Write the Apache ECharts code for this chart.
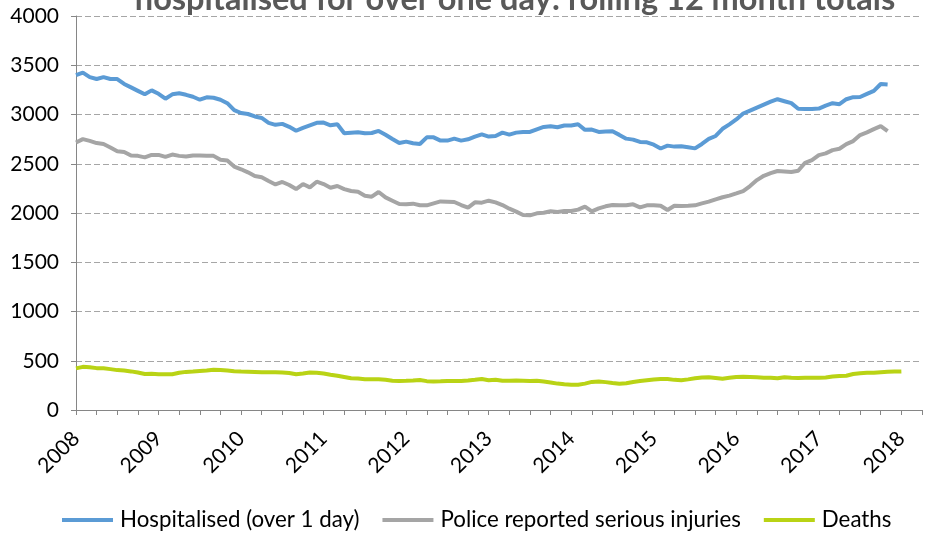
<!DOCTYPE html>
<html>
<head>
<meta charset="utf-8">
<title>Rolling 12 month totals</title>
<script src="https://cdn.jsdelivr.net/npm/echarts@6/dist/echarts.min.js"></script>
<style>
  html, body { margin: 0; padding: 0; background: #fff; }
  #chart { width: 925px; height: 533px; }
</style>
</head>
<body>
<div id="chart"></div>
<script>
// x axis: monthly positions from Jan 2008, year labels every 12 months
const years = ["2008", "2009", "2010", "2011", "2012", "2013", "2014", "2015", "2016", "2017", "2018"];
const monthCount = 124;

// rolling 12 month totals, monthly
const hospitalised = [
  3400, 3425, 3380, 3360, 3380, 3360, 3360, 3310, 3275, 3240, 3205, 3245,
  3210, 3160, 3205, 3215, 3200, 3180, 3150, 3175, 3170, 3150, 3115, 3045,
  3015, 3005, 2980, 2965, 2915, 2895, 2905, 2875, 2835, 2865, 2890, 2915,
  2918, 2890, 2900, 2810, 2815, 2820, 2810, 2812, 2833, 2795, 2752, 2710,
  2725, 2708, 2700, 2768, 2768, 2735, 2735, 2755, 2735, 2748, 2776, 2799,
  2776, 2782, 2816, 2796, 2816, 2823, 2823, 2850, 2874, 2881, 2871, 2888,
  2888, 2901, 2844, 2847, 2823, 2827, 2830, 2793, 2755, 2745, 2721, 2718,
  2694, 2655, 2684, 2674, 2677, 2667, 2656, 2701, 2752, 2782, 2855, 2900,
  2950, 3010, 3040, 3070, 3100, 3130, 3155, 3135, 3115, 3058, 3057, 3057,
  3060, 3090, 3115, 3105, 3155, 3176, 3178, 3209, 3240, 3310, 3305
];
const policeSerious = [
  2715, 2750, 2732, 2710, 2700, 2665, 2627, 2620, 2583, 2580, 2565, 2590,
  2590, 2570, 2593, 2580, 2573, 2583, 2583, 2580, 2580, 2540, 2532, 2471,
  2444, 2413, 2376, 2363, 2325, 2290, 2315, 2284, 2243, 2294, 2260, 2318,
  2294, 2257, 2274, 2243, 2223, 2216, 2176, 2166, 2213, 2159, 2125, 2091,
  2088, 2095, 2078, 2078, 2098, 2118, 2115, 2112, 2081, 2054, 2108, 2105,
  2125, 2108, 2081, 2044, 2014, 1980, 1976, 1997, 2003, 2017, 2010, 2020,
  2020, 2034, 2064, 2017, 2047, 2068, 2081, 2078, 2078, 2088, 2057, 2078,
  2078, 2074, 2030, 2074, 2071, 2074, 2078, 2098, 2115, 2139, 2160, 2176,
  2199, 2223, 2274, 2334, 2378, 2405, 2426, 2422, 2416, 2429, 2510, 2537,
  2588, 2605, 2638, 2652, 2699, 2730, 2791, 2818, 2851, 2882, 2831
];
const deaths = [
  423, 438, 435, 425, 423, 415, 405, 400, 392, 380, 366, 368,
  364, 362, 363, 378, 387, 391, 396, 401, 408, 406, 401, 394,
  390, 389, 387, 384, 382, 382, 380, 375, 363, 370, 380, 378,
  370, 358, 348, 335, 322, 319, 313, 313, 312, 308, 298, 294,
  296, 299, 304, 293, 289, 291, 294, 294, 294, 299, 306, 314,
  302, 308, 296, 298, 300, 298, 295, 297, 290, 280, 268, 261,
  257, 257, 268, 285, 290, 283, 274, 266, 272, 285, 294, 302,
  310, 315, 315, 306, 302, 311, 322, 330, 332, 325, 318, 327,
  336, 338, 336, 332, 328, 328, 322, 332, 327, 326, 328, 328,
  328, 331, 340, 344, 348, 365, 374, 377, 379, 384, 388, 390, 392
];

const months = [];
for (let i = 0; i < monthCount; i++) {
  const y = 2008 + Math.floor(i / 12);
  const m = (i % 12) + 1;
  months.push(y + "-" + (m < 10 ? "0" + m : m));
}

const font = "Lato, 'Open Sans', sans-serif";
const axisGrey = "#868686";

const chart = echarts.init(document.getElementById("chart"));
chart.setOption({
  animation: false,
  textStyle: { fontFamily: font },
  title: {
    text: "hospitalised for over one day: rolling 12 month totals",
    left: 510,
    textAlign: "center",
    top: -22,
    textStyle: {
      fontFamily: font,
      fontSize: 32.5,
      fontWeight: "bold",
      color: "#595959"
    }
  },
  grid: {
    left: 76,
    right: 3,
    top: 16,
    bottom: 123
  },
  legend: {
    left: 62,
    top: 509,
    padding: 0,
    icon: "rect",
    itemWidth: 51,
    itemHeight: 4,
    itemGap: 23,
    textStyle: { fontFamily: font, fontSize: 22.3, color: "#000", padding: [0, 0, 0, 2] },
    data: ["Hospitalised (over 1 day)", "Police reported serious injuries", "Deaths"]
  },
  xAxis: {
    type: "category",
    data: months,
    boundaryGap: false,
    axisLine: { lineStyle: { color: axisGrey, width: 1 } },
    axisTick: {
      show: true,
      length: 5,
      interval: function (index) { return index % 3 === 0; },
      lineStyle: { color: axisGrey }
    },
    axisLabel: {
      rotate: 45,
      margin: 25,
      padding: [20, 0, 0, 0],
      fontSize: 21,
      color: "#000",
      fontFamily: font,
      interval: function (index) { return index % 12 === 0; },
      formatter: function (value) {
        const y = value.slice(0, 4);
        return value.slice(5) === "01" && years.indexOf(y) >= 0 ? y : "";
      }
    },
    splitLine: { show: false }
  },
  yAxis: {
    type: "value",
    min: 0,
    max: 4000,
    interval: 500,
    axisLine: { show: true, lineStyle: { color: axisGrey, width: 1 } },
    axisTick: { show: true, length: 5, lineStyle: { color: axisGrey } },
    axisLabel: {
      fontSize: 21,
      color: "#000",
      fontFamily: font,
      margin: 17,
      formatter: function (v) { return String(v); }
    },
    splitLine: {
      show: true,
      lineStyle: { color: "#A6A6A6", type: [6, 3], width: 1 }
    }
  },
  series: [
    {
      name: "Hospitalised (over 1 day)",
      type: "line",
      data: hospitalised,
      symbol: "none",
      color: "#5B9BD5",
      lineStyle: { width: 4, color: "#5B9BD5" }
    },
    {
      name: "Police reported serious injuries",
      type: "line",
      data: policeSerious,
      symbol: "none",
      color: "#A5A5A5",
      lineStyle: { width: 4, color: "#A5A5A5" }
    },
    {
      name: "Deaths",
      type: "line",
      data: deaths,
      symbol: "none",
      color: "#B9D315",
      lineStyle: { width: 4, color: "#B9D315" }
    }
  ]
});
</script>
</body>
</html>
